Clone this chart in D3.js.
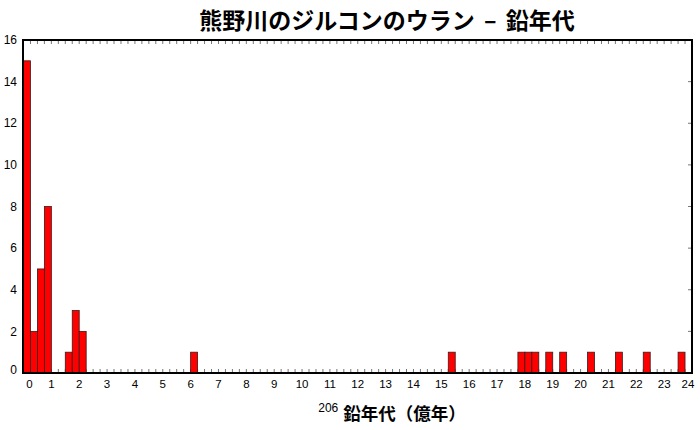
<!DOCTYPE html>
<html><head><meta charset="utf-8">
<script src="https://cdn.jsdelivr.net/npm/d3@7"></script>
<style>body{margin:0;background:#fff}svg{display:block}</style>
</head><body>
<svg id="c" width="700" height="430"></svg>
<script>
const titleText = "熊野川のジルコンのウラン – 鉛年代";
const xTitleSup = "206";
const xTitleMain = "鉛年代（億年）";
const binWidth = 0.25;
const binStarts = [0, 0.25, 0.5, 0.75, 1.5, 1.75, 2.0, 6.0, 15.25, 17.75, 18.0, 18.25, 18.75, 19.25, 20.25, 21.25, 22.25, 23.5];
const counts    = [15, 2, 5, 8, 1, 3, 2, 1, 1, 1, 1, 1, 1, 1, 1, 1, 1, 1];
const xTicks = d3.range(0, 25, 1);
const yTicks = d3.range(0, 17, 2);
const minorTicks = d3.range(0, 24.001, 0.25);

const svg = d3.select("#c");
const L = 23, R = 692, T = 40, B = 373;
const x = d3.scaleLinear().domain([0, 24]).range([L + 0.5, R]);
const y = d3.scaleLinear().domain([0, 16]).range([B, T]);

svg.append("rect").attr("width", 700).attr("height", 430).attr("fill", "#fff");

const g = svg.append("g");
g.selectAll("line.tb").data(minorTicks).join("line")
  .attr("x1", d => x(d)).attr("x2", d => x(d))
  .attr("y1", B).attr("y2", B - 4)
  .attr("stroke", "#777").attr("stroke-width", 1);
g.selectAll("line.tt").data(minorTicks).join("line")
  .attr("x1", d => x(d)).attr("x2", d => x(d))
  .attr("y1", T).attr("y2", T + 4)
  .attr("stroke", "#777").attr("stroke-width", 1);
g.selectAll("line.yl").data(yTicks).join("line")
  .attr("x1", L).attr("x2", L + 4)
  .attr("y1", d => y(d)).attr("y2", d => y(d))
  .attr("stroke", "#777").attr("stroke-width", 1);
g.selectAll("line.yr").data(yTicks).join("line")
  .attr("x1", R).attr("x2", R - 4)
  .attr("y1", d => y(d)).attr("y2", d => y(d))
  .attr("stroke", "#777").attr("stroke-width", 1);

const data = binStarts.map((s, i) => ({s, c: counts[i]}));
svg.append("g").selectAll("rect").data(data).join("rect")
  .attr("x", d => x(d.s))
  .attr("width", d => x(d.s + binWidth) - x(d.s))
  .attr("y", d => y(d.c))
  .attr("height", d => y(0) - y(d.c))
  .attr("fill", "#ff0000")
  .attr("stroke", "#3a1a1a")
  .attr("stroke-width", 0.8);

svg.append("rect").attr("x", L).attr("y", T).attr("width", R - L).attr("height", B - T)
  .attr("fill", "none").attr("stroke", "#000").attr("stroke-width", 2);

svg.append("g").selectAll("text").data(xTicks).join("text")
  .attr("x", d => x(d) + (d === 0 ? 6 : d === 24 ? -4 : 0))
  .attr("y", 388)
  .attr("text-anchor", "middle")
  .attr("font-family", "Liberation Sans, Arial, sans-serif")
  .attr("font-size", 11.5)
  .attr("fill", "#000")
  .text(d => d);

svg.append("g").selectAll("text").data(yTicks).join("text")
  .attr("x", 17)
  .attr("y", d => y(d) + (d === 0 ? -3 : 0))
  .attr("dy", "0.35em")
  .attr("text-anchor", "end")
  .attr("font-family", "Liberation Sans, Arial, sans-serif")
  .attr("font-size", 12)
  .attr("fill", "#000")
  .text(d => d);

svg.append("text")
  .attr("x", 387).attr("y", 29)
  .attr("text-anchor", "middle")
  .attr("font-family", "Noto Sans CJK JP, sans-serif")
  .attr("font-weight", "bold")
  .attr("font-size", 23)
  .attr("word-spacing", 4)
  .attr("fill", "#000")
  .text(titleText);

const xt = svg.append("text")
  .attr("x", 392).attr("y", 420)
  .attr("text-anchor", "middle")
  .attr("font-family", "Noto Sans CJK JP, sans-serif")
  .attr("fill", "#000");
xt.append("tspan").attr("font-size", 12).attr("dy", -8)
  .attr("font-family", "Liberation Sans, Arial, sans-serif").text(xTitleSup);
xt.append("tspan").attr("font-size", 17.5).attr("font-weight", "bold").attr("dy", 8).attr("dx", 5).text(xTitleMain);
</script>
</body></html>
